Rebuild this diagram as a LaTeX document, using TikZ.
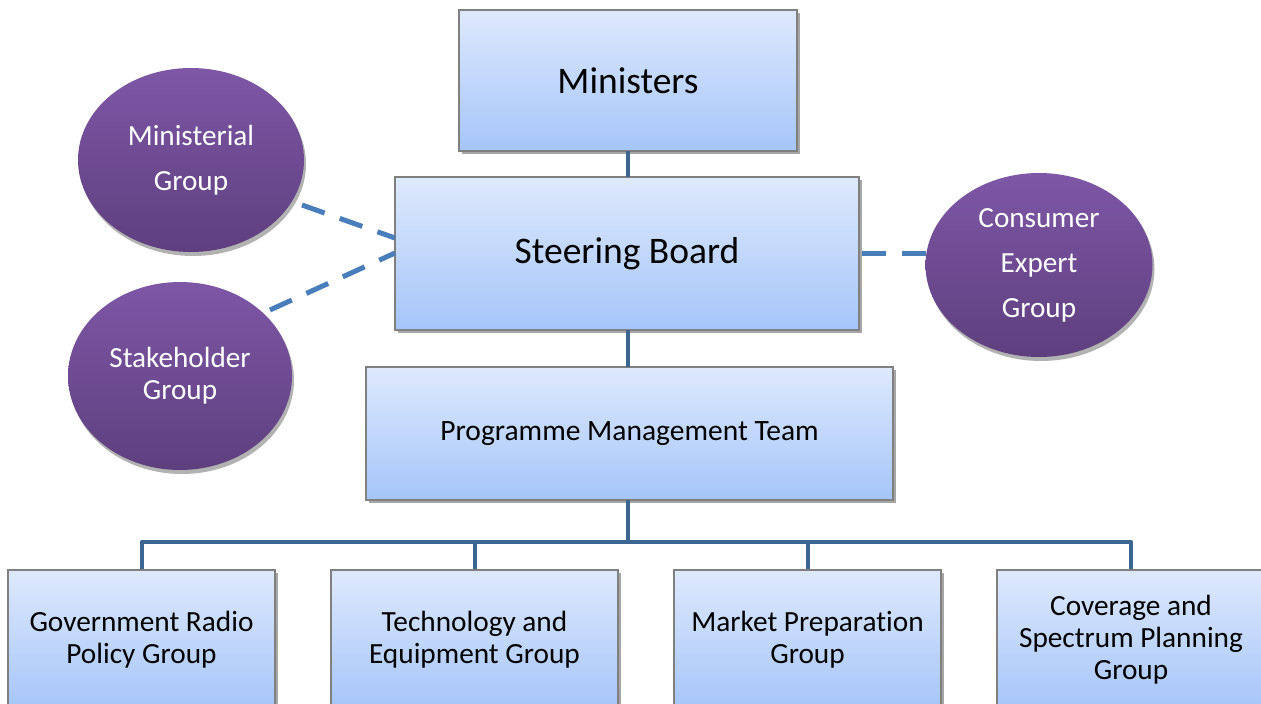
\documentclass[tikz,border=0pt]{standalone}
\usepackage{fontspec}
\setmainfont{Carlito}[Ligatures={NoCommon}]
\usetikzlibrary{shapes.geometric,shadows}
\definecolor{boxtop}{HTML}{DEE9FD}
\definecolor{boxbot}{HTML}{A5C5F9}
\definecolor{boxline}{HTML}{808080}
\definecolor{elltop}{HTML}{7E57A6}
\definecolor{ellbot}{HTML}{5E3F7E}
\definecolor{conn}{HTML}{3D6591}
\definecolor{dash}{HTML}{4A7EBB}
\tikzset{
  orgbox/.style={rectangle, draw=boxline, line width=1.2pt, top color=boxtop, bottom color=boxbot,
    align=center, inner sep=0pt, text=black,
    drop shadow={shadow xshift=3pt, shadow yshift=-3pt, opacity=0.35, fill=black}},
  grpell/.style={ellipse, inner sep=0pt, top color=elltop, bottom color=ellbot, text=white, align=center,
    drop shadow={shadow xshift=2pt, shadow yshift=-4pt, opacity=0.3, fill=black}},
  link/.style={draw=conn, line width=4pt},
  dlink/.style={draw=dash, line width=5pt, dash pattern=on 24pt off 16pt}
}
\begin{document}
\begin{tikzpicture}[x=1pt,y=-1pt]
\useasboundingbox (0,0) rectangle (1261,704);
% boxes
\node[orgbox, minimum width=338pt, minimum height=141pt, font=\fontsize{37.5}{44}\selectfont] (min) at (628,80.5) {Ministers};
\node[orgbox, minimum width=464pt, minimum height=153pt, font=\fontsize{37.5}{44}\selectfont] (sb) at (627,253.5) {Steering Board};
\node[orgbox, minimum width=527pt, minimum height=133pt, font=\fontsize{29.5}{32}\selectfont] (pmt) at (629.5,433.5) {Programme Management Team};
\node[orgbox, minimum width=267pt, minimum height=140pt, font=\fontsize{29.3}{32}\selectfont] (gov) at (141.5,640) {Government Radio\\Policy Group};
\node[orgbox, minimum width=287pt, minimum height=140pt, font=\fontsize{29.3}{32}\selectfont] (tech) at (474.5,640) {Technology and\\Equipment Group};
\node[orgbox, minimum width=267pt, minimum height=140pt, font=\fontsize{29.3}{32}\selectfont] (mkt) at (807.5,640) {Market Preparation\\Group};
\node[orgbox, minimum width=268pt, minimum height=140pt, font=\fontsize{29.3}{32}\selectfont] (cov) at (1131,640) {Coverage and\\Spectrum Planning\\Group};
% ellipses
\node[grpell, minimum width=226pt, minimum height=184pt, font=\fontsize{29.2}{45}\selectfont] (mg) at (191,160) {Ministerial\\Group};
\node[grpell, minimum width=224pt, minimum height=188pt, font=\fontsize{29.2}{32}\selectfont] (sg) at (180,376) {Stakeholder\\Group};
\node[grpell, minimum width=227pt, minimum height=184pt, font=\fontsize{29.2}{45}\selectfont] (ceg) at (1039,265) {Consumer\\Expert\\Group};
% connectors
\coordinate (minb) at (628,151);
\coordinate (sbt) at (628,177);
\coordinate (sbb) at (628,330);
\coordinate (pmtt) at (628,367);
\coordinate (pmtb) at (628,500);
\coordinate (bus) at (628,542);
\draw[link] (minb) -- (sbt);
\draw[link] (sbb) -- (pmtt);
\draw[link] (pmtb) -- (bus);
\draw[link, line join=round] (gov.north) |- (bus) -| (cov.north);
\draw[link] (tech.north) -- (tech.north |- bus);
\draw[link] (mkt.north) -- (mkt.north |- bus);
% dashed links
\coordinate (mgr) at (302,205);
\coordinate (sgr) at (270,310);
\coordinate (sbl1) at (395,238);
\coordinate (sbl2) at (395,253);
\coordinate (sbr) at (862,253);
\coordinate (cegl) at (927,253);
\draw[dlink] (mgr) -- (sbl1);
\draw[dlink] (sgr) -- (sbl2);
\draw[dlink] (sbr) -- (cegl);
\end{tikzpicture}
\end{document}
